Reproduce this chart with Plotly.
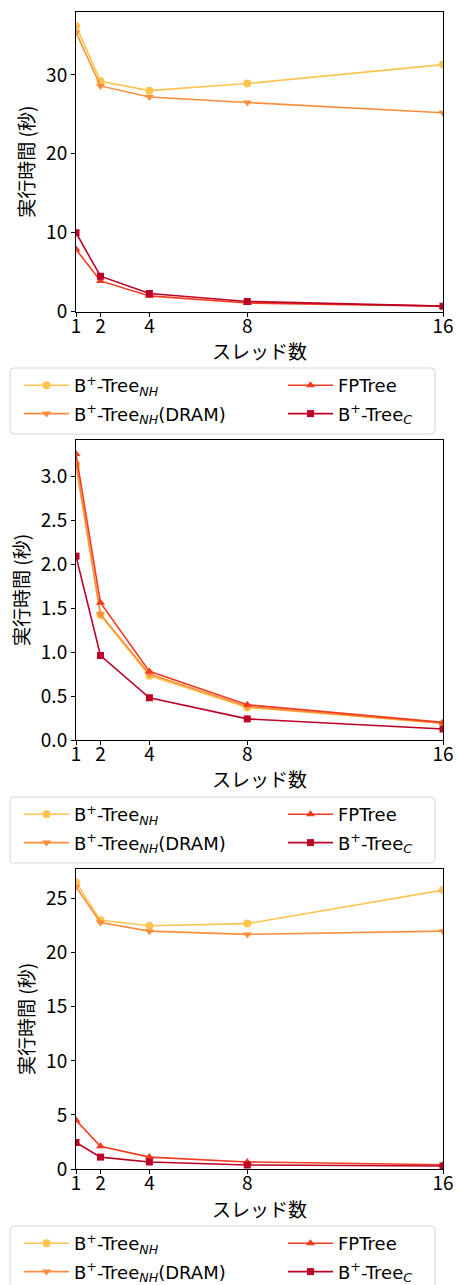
import plotly.graph_objects as go

threads = [1, 2, 4, 8, 16]
x_ticks = [1, 2, 4, 8, 16]

names = ["B<sup>+</sup>-Tree<sub><i>NH</i></sub>",
         "B<sup>+</sup>-Tree<sub><i>NH</i></sub>(DRAM)",
         "FPTree",
         "B<sup>+</sup>-Tree<sub><i>C</i></sub>"]

# panel 1
p1_nh = [36.2, 29.2, 28.0, 28.9, 31.3]
p1_dram = [35.4, 28.6, 27.2, 26.5, 25.2]
p1_fp = [7.9, 3.9, 2.0, 1.1, 0.7]
p1_c = [10.0, 4.5, 2.3, 1.3, 0.7]

# panel 2
p2_nh = [3.12, 1.42, 0.73, 0.37, 0.19]
p2_dram = [3.14, 1.43, 0.75, 0.38, 0.19]
p2_fp = [3.25, 1.56, 0.78, 0.40, 0.20]
p2_c = [2.09, 0.96, 0.48, 0.24, 0.125]

# panel 3
p3_nh = [26.5, 23.0, 22.5, 22.7, 25.8]
p3_dram = [26.1, 22.8, 22.0, 21.7, 22.0]
p3_fp = [4.5, 2.1, 1.1, 0.65, 0.4]
p3_c = [2.45, 1.1, 0.65, 0.37, 0.28]

panels = [
    (p1_nh, p1_dram, p1_fp, p1_c),
    (p2_nh, p2_dram, p2_fp, p2_c),
    (p3_nh, p3_dram, p3_fp, p3_c),
]

x_title = "スレッド数"
y_title = "実行時間 (秒)"

colors = ["#fec44f", "#fd8d3c", "#f03b20", "#bd0026"]
symbols = ["circle", "triangle-down", "triangle-up", "square"]

FONT = "Noto Sans CJK JP"
LEG_FONT = "DejaVu Sans"
H = 1285.0
W = 460.0

plot_tops = [11.7, 440.0, 869.0]
plot_h = 300.0
x_dom = [76 / W, 443 / W]
y_ranges = [[0, 38.0], [0, 3.41], [0, 27.75]]
y_dticks = [10, 0.5, 5]
y_formats = ["d", ".1f", "d"]
legend_tops = [368.0, 797.0, 1226.0]
legend_bottoms = [434.0, 863.0, 1300.0]
box_left, box_right = 10.0, 435.0
col_x = [19.0, 283.0]

fig = go.Figure()
layout = {}
shapes = []
annotations = []


def px(v):
    return v / W


def py(v):
    return 1 - v / H


for i, series in enumerate(panels):
    xa = "x" if i == 0 else f"x{i+1}"
    ya = "y" if i == 0 else f"y{i+1}"
    leg_ids = [f"legend{2*i+1}" if 2 * i + 1 > 1 else "legend", f"legend{2*i+2}"]
    for j, vals in enumerate(series):
        fig.add_trace(go.Scatter(
            x=threads, y=vals, name=names[j], mode="lines+markers",
            line=dict(color=colors[j], width=1.6),
            marker=dict(symbol=symbols[j], size=8 if j != 3 else 7, color=colors[j]),
            xaxis=xa, yaxis=ya, legend=leg_ids[j // 2], legendgroup=f"p{i}s{j}",
        ))
    top = plot_tops[i]
    dom = [1 - (top + plot_h) / H, 1 - top / H]
    axis_common = dict(showline=True, mirror=True, linecolor="black", linewidth=1,
                       ticks="outside", ticklen=4, tickcolor="black", showgrid=False,
                       zeroline=False, tickfont=dict(family=FONT, size=19, color="black"))
    layout["xaxis" if i == 0 else f"xaxis{i+1}"] = dict(
        domain=x_dom, anchor=ya, range=[1, 16], tickvals=x_ticks,
        ticktext=[str(t) for t in x_ticks], ticklabelstandoff=-7,
        **axis_common)
    layout["yaxis" if i == 0 else f"yaxis{i+1}"] = dict(
        domain=dom, anchor=xa, range=y_ranges[i], dtick=y_dticks[i], tick0=0,
        tickformat=y_formats[i],
        title=dict(text=y_title, font=dict(family=FONT, size=19, color="black"), standoff=6),
        **axis_common)
    annotations.append(dict(
        text=x_title, xref="paper", yref="paper", x=(x_dom[0] + x_dom[1]) / 2,
        y=py(top + plot_h + 39), xanchor="center", yanchor="middle", showarrow=False,
        font=dict(family=FONT, size=19, color="black")))
    for c in range(2):
        layout[leg_ids[c]] = dict(
            x=px(col_x[c]), y=py(legend_tops[i] - 1),
            xanchor="left", yanchor="top",
            orientation="v", traceorder="grouped", tracegroupgap=2,
            borderwidth=0, bgcolor="rgba(0,0,0,0)", itemwidth=45,
            font=dict(family=LEG_FONT, size=18, color="black"),
        )
    # rounded legend frame
    l, r = box_left, box_right
    t, b = legend_tops[i], legend_bottoms[i]
    rd = 4
    path = (f"M {px(l+rd)},{py(t)} L {px(r-rd)},{py(t)} Q {px(r)},{py(t)} {px(r)},{py(t+rd)} "
            f"L {px(r)},{py(b-rd)} Q {px(r)},{py(b)} {px(r-rd)},{py(b)} "
            f"L {px(l+rd)},{py(b)} Q {px(l)},{py(b)} {px(l)},{py(b-rd)} "
            f"L {px(l)},{py(t+rd)} Q {px(l)},{py(t)} {px(l+rd)},{py(t)} Z")
    shapes.append(dict(type="path", xref="paper", yref="paper", path=path,
                       line=dict(color="#d6d6d6", width=1), fillcolor="white", layer="below"))

fig.update_layout(
    width=460, height=1285, margin=dict(l=0, r=0, t=0, b=0, autoexpand=False),
    plot_bgcolor="white", paper_bgcolor="white",
    font=dict(family=FONT, size=18, color="black"),
    shapes=shapes, annotations=annotations,
    **layout,
)

fig.write_html("out.html", config={"displayModeBar": False},
               post_script="document.body.style.margin='0';")
